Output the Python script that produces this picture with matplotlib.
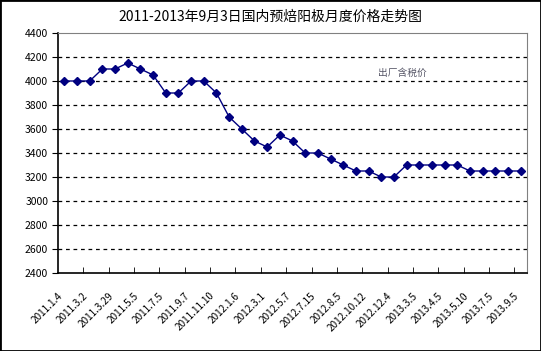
import numpy as np
import matplotlib
matplotlib.use("Agg")
import matplotlib.pyplot as plt
import matplotlib.transforms as mtransforms

plt.rcParams['font.family'] = ['Noto Sans CJK SC', 'DejaVu Sans']

title = "2011-2013年9月3日国内预焙阳极月度价格走势图"
series_name = "出厂含税价"

prices = [4000, 4000, 4000, 4100, 4100, 4150, 4100, 4050, 3900, 3900,
          4000, 4000, 3900, 3700, 3600, 3500, 3450, 3550, 3500, 3400,
          3400, 3350, 3300, 3250, 3250, 3200, 3200, 3300, 3300, 3300,
          3300, 3300, 3250, 3250, 3250, 3250, 3250]

date_labels = ["2011.1.4", "2011.3.2", "2011.3.29", "2011.5.5", "2011.7.5",
               "2011.9.7", "2011.11.10", "2012.1.6", "2012.3.1", "2012.5.7",
               "2012.7.15", "2012.8.5", "2012.10.12", "2012.12.4", "2013.3.5",
               "2013.4.5", "2013.5.10", "2013.7.5", "2013.9.5"]

y_ticks = list(range(2400, 4401, 200))

fig = plt.figure(figsize=(5.41, 3.51), dpi=100)
ax = fig.add_axes([58/541, 78/351, 469/541, 240/351])

x = np.arange(len(prices))
ax.plot(x, prices, color='#000080', lw=1, marker='D', ms=4.3,
        mec='#000080', mfc='#000080')

ax.set_xlim(-0.5, len(prices) - 0.5)
ax.set_ylim(2400, 4400)
ax.set_yticks(y_ticks)
ax.set_yticklabels([str(v) for v in y_ticks], fontsize=7.5)
for v in y_ticks[1:-1]:
    ax.axhline(v, color='black', lw=0.9, ls=(0, (3, 3)), zorder=0)

# labels every other category, tick marks between categories
ax.set_xticks(x[::2])
ax.set_xticklabels(date_labels, rotation=45, ha='right', va='top',
                   rotation_mode='anchor', fontsize=7.2)
ax.set_xticks(np.arange(1.5, len(prices) - 1, 2), minor=True)
ax.tick_params(axis='x', which='major', length=0, pad=9)
ax.tick_params(axis='x', which='minor', direction='in', length=4)
ax.tick_params(axis='y', direction='out', length=4, pad=3)

shift = mtransforms.ScaledTranslation(-7/100, -5/100, fig.dpi_scale_trans)
for lbl in ax.get_xticklabels():
    lbl.set_transform(lbl.get_transform() + shift)

for side in ['top', 'right']:
    ax.spines[side].set_color('#808080')
for side in ['left', 'bottom']:
    ax.spines[side].set_color('black')
    ax.spines[side].set_linewidth(1.2)

ax.text(0.735, 0.835, series_name, transform=ax.transAxes, fontsize=7,
        color='#555566', ha='center', va='center')

fig.text(0.5, 1 - 17/351, title, ha='center', va='center', fontsize=10)

fig.add_artist(plt.Rectangle((0, 0), 1, 1, transform=fig.transFigure,
                             fill=False, lw=2, ec='black'))

fig.savefig("out.png", dpi=100)
